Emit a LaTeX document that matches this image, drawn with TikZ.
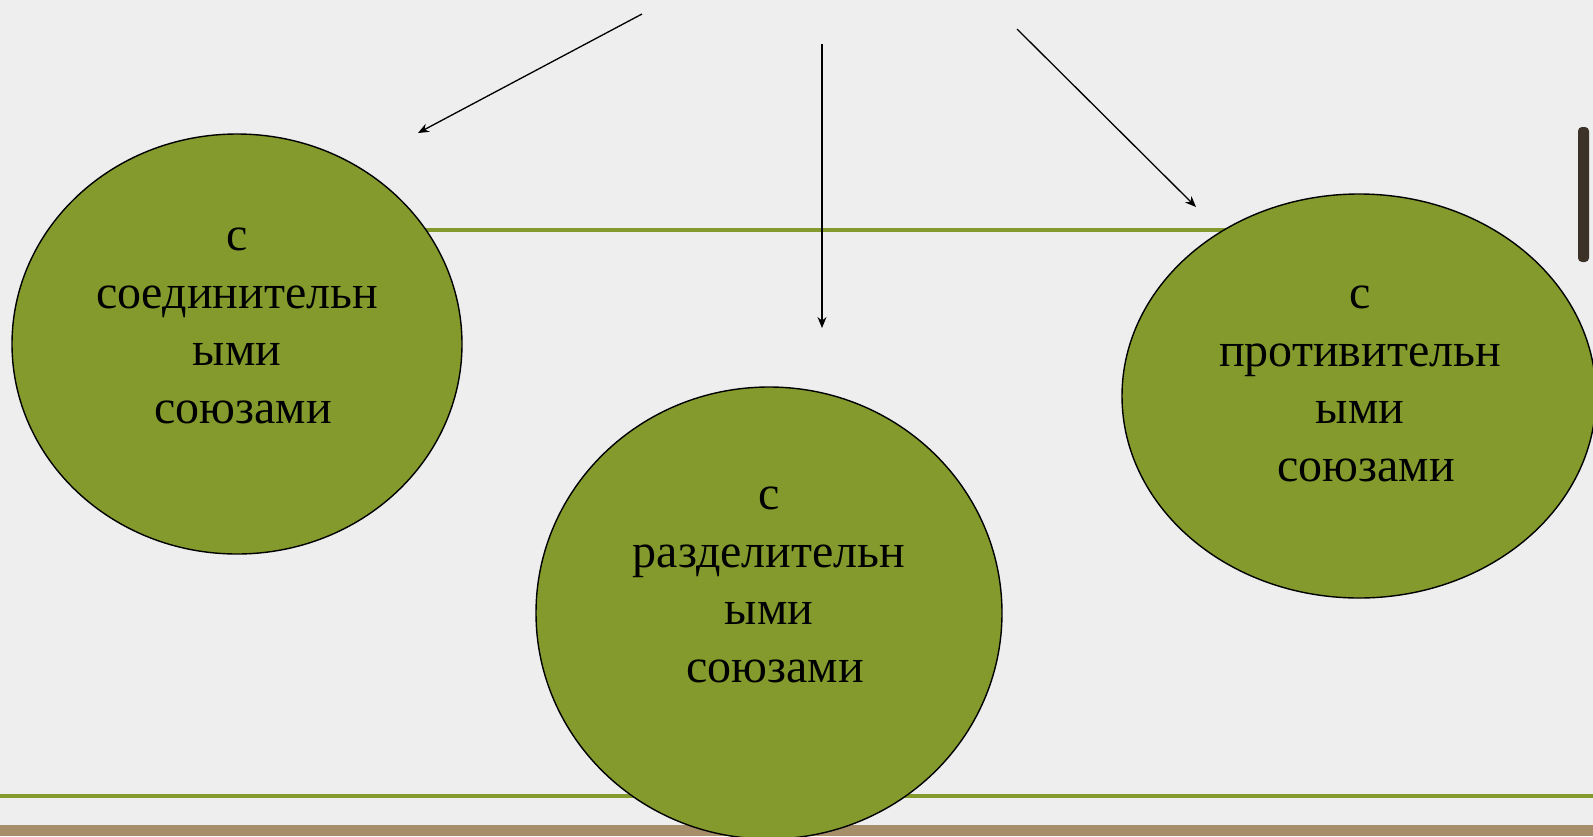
\documentclass[tikz,border=0pt]{standalone}
\usepackage{fontspec}
\setmainfont{Liberation Serif}
\usepackage{tikz}
\usetikzlibrary{arrows.meta,shapes.geometric,positioning,calc}
\definecolor{slidebg}{RGB}{238,238,238}
\definecolor{slidegreen}{RGB}{132,154,45}
\definecolor{slidebrown}{RGB}{166,142,106}
\definecolor{slidedark}{RGB}{60,50,40}

\begin{document}
\begin{tikzpicture}[x=1pt,y=-1pt,
    oval/.style={ellipse, draw=black, line width=1.4pt, fill=slidegreen, inner sep=0pt},
    ovaltext/.style={align=center, inner sep=0pt, font=\fontsize{48}{57.5}\selectfont},
    pointer/.style={line width=1.3pt, -{Stealth[length=11pt,width=9pt]}}]
    \useasboundingbox (0,0) rectangle (1593,836);
    \clip (0,0) rectangle (1593,836);

    % Slide background
    \fill[slidebg] (0,0) rectangle (1593,836);
    \fill[slidebrown] (0,825) rectangle (1593,836);
    \fill[slidedark, rounded corners=4pt] (1578,127) rectangle (1589,262);

    % Green rules
    \draw[slidegreen, line width=3.5pt] (237,230) -- (1359,230);
    \draw[slidegreen, line width=3.5pt] (0,796) -- (1593,796);

    % Ovals
    \node[oval, minimum width=450pt, minimum height=420pt] (left) at (237,344) {};
    \node[oval, minimum width=466pt, minimum height=452pt] (mid) at (769,613) {};
    \node[oval, minimum width=474pt, minimum height=404pt] (right) at (1359,396) {};

    \node[ovaltext] (lefttext) at (237,326) {с\\соединительн\\ыми\\\ союзами};
    \node[ovaltext] (midtext) at (769,585) {с\\разделительн\\ыми\\\ союзами};
    \node[ovaltext] (righttext) at (1360,384) {с\\противительн\\ыми\\\ союзами};

    % Arrows
    \coordinate (startleft) at (642,14);
    \coordinate (endleft) at (418,133);
    \coordinate (startmid) at (822,44);
    \coordinate (endmid) at (822,328);
    \coordinate (startright) at (1017,29);
    \coordinate (endright) at (1196,207);
    \draw[pointer] (startleft) -- (endleft);
    \draw[pointer] (startmid) -- (endmid);
    \draw[pointer] (startright) -- (endright);
\end{tikzpicture}
\end{document}
